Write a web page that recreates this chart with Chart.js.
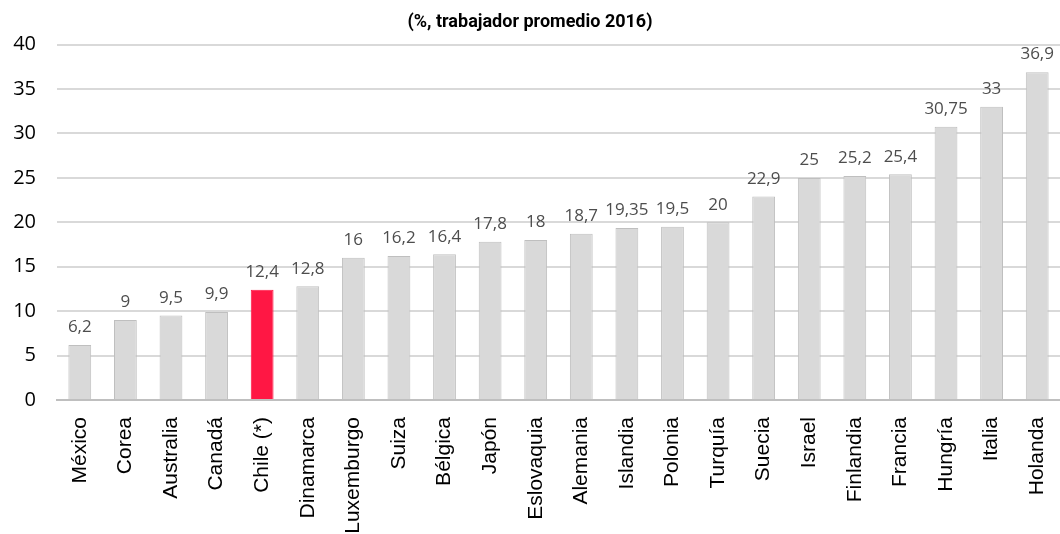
<!DOCTYPE html>
<html>
<head>
<meta charset="utf-8">
<script src="https://cdn.jsdelivr.net/npm/chart.js@4.4.1/dist/chart.umd.min.js"></script>
<style>
  body { margin: 0; background: #fff; }
</style>
</head>
<body>
<canvas id="bar-Chart" width="1060" height="534"></canvas>
<script>
const paises = ['México', 'Corea', 'Australia', 'Canadá', 'Chile (*)', 'Dinamarca', 'Luxemburgo', 'Suiza', 'Bélgica', 'Japón', 'Eslovaquia', 'Alemania', 'Islandia', 'Polonia', 'Turquía', 'Suecia', 'Israel', 'Finlandia', 'Francia', 'Hungría', 'Italia', 'Holanda'];
const valores = [6.2, 9, 9.5, 9.9, 12.4, 12.8, 16, 16.2, 16.4, 17.8, 18, 18.7, 19.35, 19.5, 20, 22.9, 25, 25.2, 25.4, 30.75, 33, 36.9];
const etiquetas = ['6,2', '9', '9,5', '9,9', '12,4', '12,8', '16', '16,2', '16,4', '17,8', '18', '18,7', '19,35', '19,5', '20', '22,9', '25', '25,2', '25,4', '30,75', '33', '36,9'];
const yTicks = [0, 5, 10, 15, 20, 25, 30, 35, 40];

const colores = paises.map(p => p === 'Chile (*)' ? '#ff1744' : '#d9d9d9');
const bordes = paises.map(p => p === 'Chile (*)' ? '#ff1744' : '#bfbfbf');

// valores sobre las barras
const valueLabels = {
    id: 'valueLabels',
    afterDatasetsDraw(chart) {
        const ctx = chart.ctx;
        const meta = chart.getDatasetMeta(0);
        ctx.save();
        ctx.font = '17px "Open Sans"';
        ctx.fillStyle = '#4d4d4d';
        ctx.textAlign = 'center';
        ctx.textBaseline = 'bottom';
        meta.data.forEach((bar, i) => {
            ctx.fillText(etiquetas[i], bar.x, bar.y - 9);
        });
        ctx.restore();
    }
};

const ctx = document.getElementById('bar-Chart').getContext('2d');
const myChart = new Chart(ctx, {
    type: 'bar',
    data: {
        labels: paises,
        datasets: [{
            data: valores,
            backgroundColor: colores,
            borderColor: bordes,
            borderWidth: 1,
            barPercentage: 0.5,
            categoryPercentage: 1
        }]
    },
    options: {
        responsive: false,
        animation: false,
        layout: { padding: { top: 0, right: 0, left: 0, bottom: 0 } },
        plugins: {
            legend: { display: false },
            tooltip: { enabled: false },
            title: {
                display: true,
                text: '(%, trabajador promedio 2016)',
                color: '#000',
                font: { family: 'Roboto', size: 18, weight: 'bold' },
                padding: { top: 12, bottom: 11 }
            }
        },
        scales: {
            y: {
                min: 0,
                max: 40,
                afterBuildTicks(axis) {
                    axis.ticks = yTicks.map(v => ({ value: v }));
                },
                afterFit(axis) { axis.width = 57; },
                border: { display: false },
                grid: { color: '#d9d9d9', lineWidth: 2, drawTicks: false },
                ticks: {
                    color: '#000',
                    font: { family: 'Open Sans', size: 20 },
                    padding: 21
                }
            },
            x: {
                afterFit(axis) {
                    axis.height = 134;
                    axis.paddingRight = 0;
                    axis.paddingLeft = 0;
                },
                border: { color: '#bfbfbf', width: 2 },
                grid: { display: false },
                ticks: {
                    color: '#000',
                    font: { family: 'Liberation Sans', size: 21 },
                    minRotation: 90,
                    maxRotation: 90,
                    autoSkip: false,
                    padding: 9
                }
            }
        }
    },
    plugins: [valueLabels]
});
</script>
</body>
</html>
